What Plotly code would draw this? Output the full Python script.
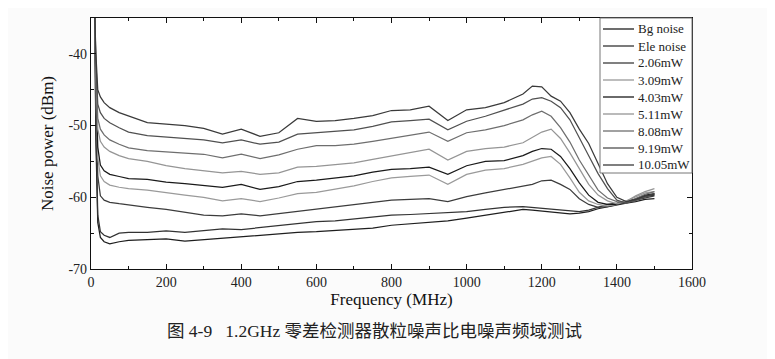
import plotly.graph_objects as go

freq_mhz = [10, 13, 18, 25, 35, 50, 75, 100, 150, 200, 250, 300, 350, 400, 450, 500, 550, 600,
            650, 700, 750, 800, 850, 900, 950, 1000, 1050, 1100, 1150, 1175, 1200, 1225, 1250,
            1275, 1300, 1325, 1350, 1375, 1400, 1425, 1450, 1475, 1500]

bg_noise = [-34.5, -52.0, -63.5, -65.6, -66.2, -66.5, -66.2, -66.0, -65.9, -65.8, -66.1, -65.9, -65.6,
            -65.4, -65.3, -65.1, -64.9, -64.8, -64.6, -64.5, -64.3, -63.9, -63.7, -63.6, -63.3, -62.9,
            -62.5, -62.0, -61.7, -61.8, -61.9, -62.0, -62.1, -62.3, -62.2, -62.0, -61.6, -61.3, -61.1,
            -60.8, -60.6, -60.3, -60.2]
ele_noise = [-34.5, -50.0, -62.5, -64.8, -65.3, -65.6, -65.0, -64.9, -64.9, -64.7, -64.9, -64.6, -64.4,
             -64.5, -64.2, -63.9, -63.6, -63.4, -63.3, -63.0, -62.8, -62.5, -62.4, -62.3, -62.2, -62.0,
             -61.7, -61.4, -61.3, -61.4, -61.6, -61.6, -61.8, -61.9, -62.0, -61.8, -61.4, -61.0, -60.8,
             -60.6, -60.3, -59.9, -59.7]
p_2_06 = [-34.5, -46.0, -57.0, -59.8, -60.4, -60.7, -60.9, -61.1, -61.4, -61.7, -62.1, -62.5, -62.6,
          -62.3, -62.6, -62.3, -61.9, -61.6, -61.3, -61.0, -60.7, -60.4, -60.3, -60.2, -60.6, -59.9,
          -59.4, -58.9, -58.4, -58.2, -57.7, -57.6, -58.2, -58.9, -60.2, -61.0, -61.4, -61.3, -61.0,
          -60.7, -60.3, -60.0, -59.8]
p_3_09 = [-34.5, -45.0, -54.5, -57.0, -57.8, -58.3, -58.6, -58.8, -59.0, -59.4, -59.7, -60.0, -60.5,
          -60.2, -60.6, -60.1, -59.5, -59.3, -58.9, -58.4, -57.8, -57.3, -57.1, -56.9, -58.2, -56.8,
          -56.2, -56.0, -55.4, -54.9, -54.5, -54.3, -55.4, -57.3, -59.3, -60.5, -61.0, -61.2, -61.0,
          -60.5, -59.9, -59.4, -59.2]
p_4_03 = [-34.5, -44.0, -53.0, -55.5, -56.3, -56.8, -57.1, -57.4, -57.5, -57.9, -58.1, -58.3, -58.6,
          -58.2, -58.9, -58.5, -57.8, -57.6, -57.3, -57.0, -56.5, -56.1, -56.0, -55.8, -56.8, -55.6,
          -55.0, -54.9, -54.2, -53.6, -53.2, -53.3, -54.3, -56.0, -58.0, -59.7, -60.7, -61.0, -61.0,
          -60.7, -60.2, -59.7, -59.5]
p_5_11 = [-34.5, -43.0, -50.5, -52.2, -53.0, -53.6, -54.2, -54.6, -55.0, -55.6, -56.0, -56.3, -56.6,
          -56.4, -56.8, -56.6, -55.8, -55.7, -55.5, -55.2, -54.7, -54.2, -53.8, -53.3, -54.8, -53.6,
          -53.2, -53.0, -52.4, -51.6, -50.9, -50.5, -51.8, -53.8, -56.1, -58.2, -59.7, -60.5, -60.9,
          -60.6, -59.8, -59.2, -58.8]
p_8_08 = [-34.5, -42.0, -49.0, -50.5, -51.3, -52.0, -52.6, -53.1, -53.5, -53.7, -53.9, -54.0, -54.5,
          -54.0, -54.6, -54.1, -53.3, -52.8, -52.8, -52.6, -52.2, -51.8, -51.3, -50.9, -52.2, -51.0,
          -50.6, -50.0, -49.2, -48.5, -48.0, -48.7, -50.3, -52.3, -54.8, -57.0, -59.0, -60.1, -60.6,
          -60.8, -60.2, -59.6, -59.2]
p_9_19 = [-34.5, -41.0, -47.0, -48.2, -49.0, -49.6, -50.3, -50.9, -51.4, -51.6, -51.8, -52.0, -52.4,
          -52.0, -52.6, -52.3, -51.2, -51.0, -50.8, -50.6, -50.1, -49.5, -49.3, -49.1, -50.6, -49.4,
          -48.7, -47.8, -47.0, -46.3, -46.1, -46.6, -47.5, -49.2, -51.8, -54.2, -56.7, -58.8, -60.4,
          -60.8, -60.4, -59.9, -59.5]
p_10_05 = [-34.5, -40.0, -45.0, -46.0, -46.8, -47.5, -48.2, -48.7, -49.6, -49.8, -50.0, -50.4, -51.2,
           -50.5, -51.5, -51.0, -49.0, -49.4, -49.3, -49.0, -48.6, -47.9, -47.8, -47.3, -49.3, -47.8,
           -47.5, -46.8, -45.6, -44.5, -44.6, -45.9, -46.6, -48.2, -50.5, -52.5, -55.3, -58.1, -60.0,
           -60.6, -60.3, -59.8, -59.6]

series_names = ["Bg noise", "Ele noise", "2.06mW", "3.09mW", "4.03mW",
                "5.11mW", "8.08mW", "9.19mW", "10.05mW"]
series_values = [bg_noise, ele_noise, p_2_06, p_3_09, p_4_03, p_5_11, p_8_08, p_9_19, p_10_05]
series_colors = ["#1e1e1e", "#333333", "#3c3c3c", "#9a9a9a", "#1a1a1a",
                 "#959595", "#6e6e6e", "#505050", "#3a3a3a"]

x_ticks = [0, 200, 400, 600, 800, 1000, 1200, 1400, 1600]
y_ticks = [-70, -60, -50, -40]
y_tick_text = ["-70", "-60", "-50", "-40"]

SERIF = "Liberation Serif, Times New Roman, serif"

fig = go.Figure()
for name, vals, col in zip(series_names, series_values, series_colors):
    fig.add_trace(go.Scatter(x=freq_mhz, y=vals, mode="lines", name=name,
                             line=dict(color=col, width=1.25)))

axis_common = dict(showline=True, linecolor="#111111", linewidth=1.2, mirror="ticks",
                   ticks="inside", ticklen=5, tickwidth=1, tickcolor="#111111",
                   showgrid=False, zeroline=False, automargin=False,
                   tickfont=dict(family=SERIF, size=14, color="#222222"))

fig.update_xaxes(range=[0, 1600], tickvals=x_ticks,
                 minor=dict(dtick=100, ticks="inside", ticklen=3, tickcolor="#111111"),
                 title=dict(text="Frequency (MHz)", font=dict(family=SERIF, size=17, color="#111111"),
                            standoff=4),
                 **axis_common)
fig.update_yaxes(range=[-70, -35], tickvals=y_ticks, ticktext=y_tick_text,
                 minor=dict(dtick=5, ticks="inside", ticklen=3, tickcolor="#111111"),
                 title=dict(text="Noise power (dBm)", font=dict(family=SERIF, size=17, color="#111111"),
                            standoff=10),
                 **axis_common)

# Page coordinates of the plot area (the page body adds an 8px offset)
BODY = 8
PLOT_L, PLOT_R, PLOT_T, PLOT_B = 91, 692, 18, 269
FIG_W, FIG_H = 775 - BODY, 359 - BODY

def px_to_paper_x(px):
    return (px - PLOT_L) / (PLOT_R - PLOT_L)

def px_to_paper_y(py):
    return (PLOT_B - py) / (PLOT_B - PLOT_T)

# Caption
fig.add_annotation(text="图 4-9&#160;&#160;&#160;1.2GHz 零差检测器散粒噪声比电噪声频域测试",
                   xref="paper", yref="paper", x=px_to_paper_x(374), y=px_to_paper_y(331),
                   showarrow=False, xanchor="center", yanchor="middle",
                   font=dict(family="Liberation Serif, Noto Sans CJK SC", size=17.5, color="#222222"))

# Legend box (inside the plot, upper right, like the original)
fig.add_shape(type="rect", xref="paper", yref="paper",
              x0=px_to_paper_x(600), x1=1.0, y0=px_to_paper_y(173), y1=1.0,
              line=dict(color="#777777", width=1), fillcolor="#ffffff", layer="above")
for i, (name, col) in enumerate(zip(series_names, series_colors)):
    row_y = px_to_paper_y(29 + i * 17)
    fig.add_shape(type="line", xref="paper", yref="paper",
                  x0=px_to_paper_x(603), x1=px_to_paper_x(634), y0=row_y, y1=row_y,
                  line=dict(color=col, width=1.3), layer="above")
    fig.add_annotation(text=name, xref="paper", yref="paper",
                       x=px_to_paper_x(636), y=row_y, xanchor="left", yanchor="middle",
                       showarrow=False,
                       font=dict(family=SERIF, size=13, color="#222222"))

fig.update_layout(
    width=FIG_W, height=FIG_H,
    margin=dict(l=PLOT_L - BODY, r=FIG_W - (PLOT_R - BODY), t=PLOT_T - BODY,
                b=FIG_H - (PLOT_B - BODY)),
    paper_bgcolor="#fbfbfb", plot_bgcolor="#ffffff",
    showlegend=False,
)

fig.write_html("out.html")
